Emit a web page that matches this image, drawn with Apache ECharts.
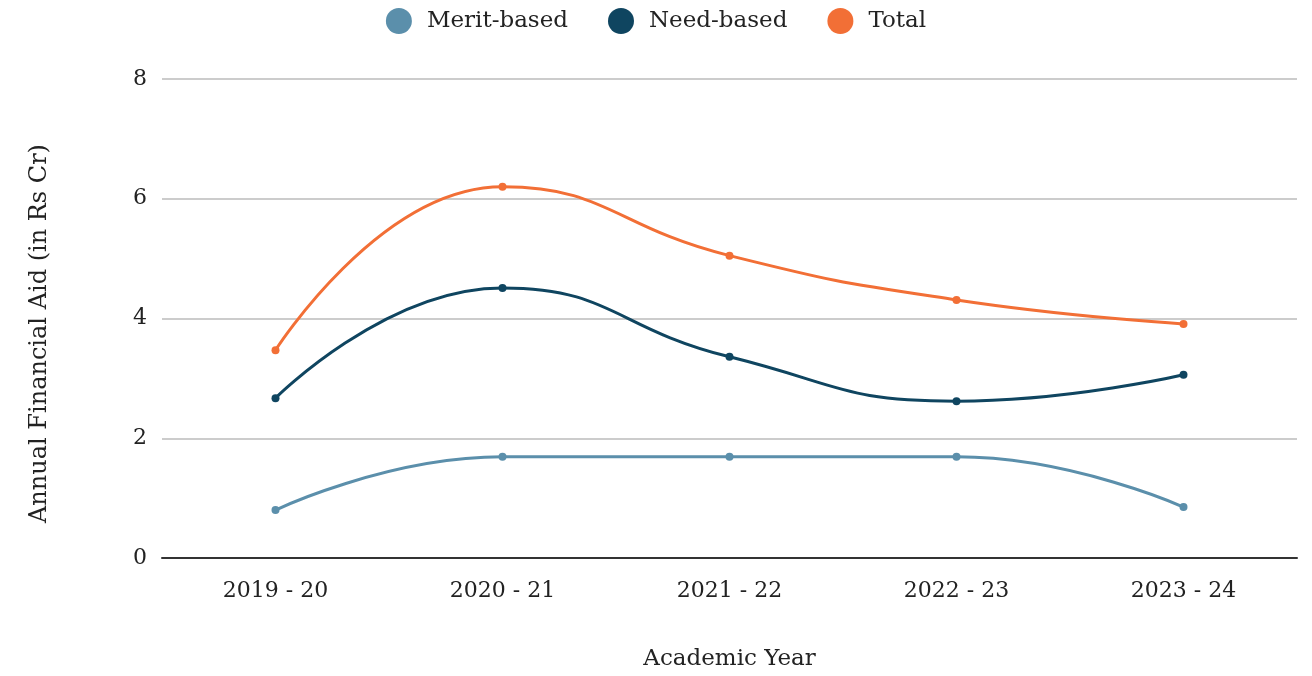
<!DOCTYPE html>
<html><head><meta charset="utf-8">
<script src="https://cdn.jsdelivr.net/npm/echarts@6/dist/echarts.min.js"></script>
<style>html,body{margin:0;padding:0;background:#fff}#c{width:1312px;height:676px}</style>
</head><body><div id="c"></div>
<script>
const years = ['2019 - 20', '2020 - 21', '2021 - 22', '2022 - 23', '2023 - 24'];
const meritBased = [0.80, 1.69, 1.69, 1.69, 0.85];
const needBased = [2.67, 4.51, 3.36, 2.62, 3.06];
const total = [3.47, 6.20, 5.05, 4.31, 3.91];

const FONT = 'DejaVu Serif';
const chart = echarts.init(document.getElementById('c'));
function mk(name, data, color) {
  return { name, type: 'line', data, smooth: 0.5, symbol: 'circle', symbolSize: 8,
    lineStyle: { width: 3, color }, itemStyle: { color } };
}
chart.setOption({
  textStyle: { fontFamily: FONT },
  legend: { top: 3, left: 'center', icon: 'circle', itemWidth: 26, itemHeight: 26, itemGap: 40,
    textStyle: { fontFamily: FONT, fontSize: 23, color: '#222', padding: [0, 0, 0, 10] } },
  grid: { left: 162, right: 15, top: 79, bottom: 118, outerBoundsMode: 'none', containLabel: false },
  xAxis: { type: 'category', data: years, boundaryGap: true,
    name: 'Academic Year', nameLocation: 'middle', nameGap: 90,
    nameTextStyle: { fontFamily: FONT, fontSize: 23, color: '#222' },
    axisLine: { lineStyle: { color: '#333', width: 2 } }, axisTick: { show: false },
    axisLabel: { fontFamily: FONT, fontSize: 22, color: '#222', margin: 22 } },
  yAxis: { type: 'value', min: 0, max: 8, interval: 2,
    name: 'Annual Financial Aid (in Rs Cr)', nameLocation: 'middle', nameGap: 110,
    nameTextStyle: { fontFamily: FONT, fontSize: 24, color: '#222', padding: [0, 30, 0, 0] },
    axisLine: { show: false }, axisTick: { show: false },
    axisLabel: { fontFamily: FONT, fontSize: 22, color: '#222', margin: 15 },
    splitLine: { lineStyle: { color: '#ccc', width: 2 } } },
  series: [mk('Merit-based', meritBased, '#5b8fab'), mk('Need-based', needBased, '#0f4560'), mk('Total', total, '#f26f36')]
});
</script></body></html>
